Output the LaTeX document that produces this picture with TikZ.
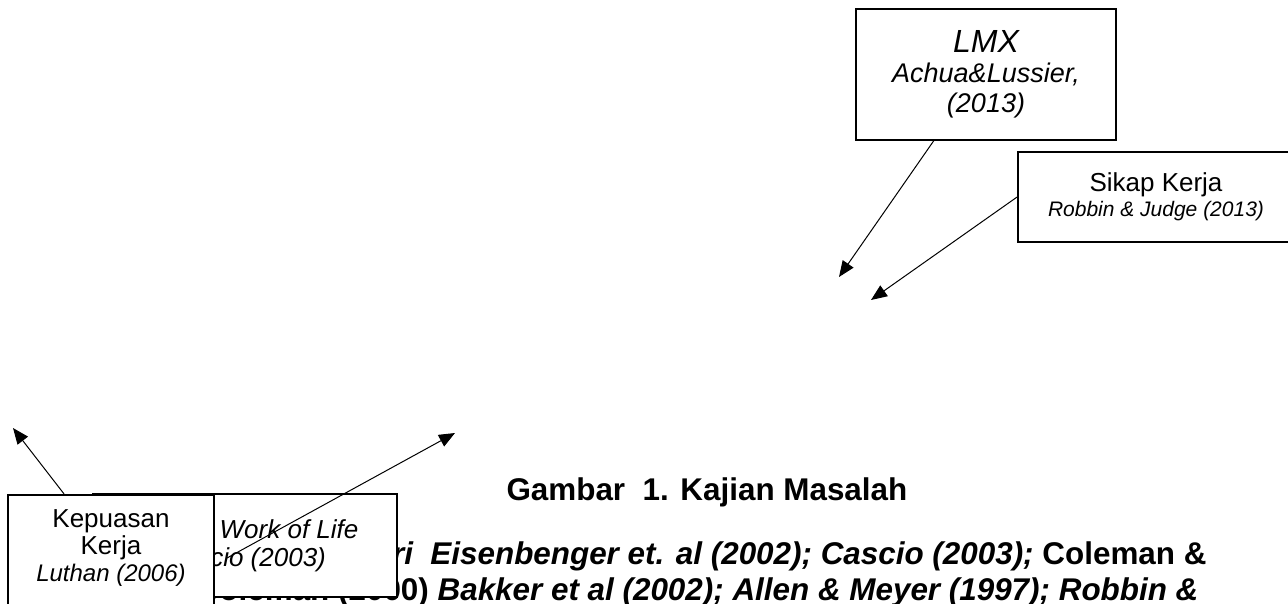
\documentclass[tikz,border=0pt]{standalone}
\usepackage{fontspec}
\setmainfont{Liberation Sans}
\usetikzlibrary{arrows.meta,calc,positioning}

\begin{document}
\begin{tikzpicture}[x=1pt, y=-1pt,
  every node/.style={font=\fontsize{26}{28}\selectfont},
  box/.style={draw, line width=1.8pt, fill=white, align=center, inner sep=0pt},
  pointer/.style={-{Triangle[length=16pt,width=13pt]}, line width=1pt},
  source/.style={font=\fontsize{31.4}{36}\selectfont\bfseries}]
\useasboundingbox (0,0) rectangle (1288,603);
% caption and source lines
\node[source, anchor=base west] (caption) at (503,500) {Gambar\ \ 1. Kajian Masalah};
\node[source, anchor=base east] (sourcesA) at (1210,564)
  {\textit{Kajian Teori\ \ Eisenbenger et. al (2002); Cascio (2003);} Coleman \&};
\node[source, anchor=base east] (sourcesB) at (1202,600)
  {Coleman (2000) \textit{Bakker et al (2002); Allen \& Meyer (1997); Robbin \&}};
% boxes
\node[box, minimum width=260, minimum height=131, font=\itshape\fontsize{27}{30}\selectfont] (lmx) at (986,74.5)
  {{\fontsize{32}{32}\selectfont LMX}\\Achua\&Lussier,\\(2013)};
\node[box, minimum width=276, minimum height=90] (sikap) at (1156,197)
  {Sikap Kerja\\[-3pt]{\itshape\fontsize{21}{24}\selectfont Robbin \& Judge (2013)}};
\node[box, minimum width=304, minimum height=103, font=\itshape\fontsize{26}{28}\selectfont] (qwl) at (245,545.5)
  {Quality Work of Life\\Cascio (2003)};
\node[box, minimum width=206, minimum height=130, anchor=north] (kepuasan) at (111,494) {};
\node[align=center, font=\fontsize{26}{27}\selectfont] (kepuasantext) at (111,548)
  {Kepuasan\\Kerja\\{\itshape\fontsize{24}{27}\selectfont Luthan (2006)}};
% free ends of the arrows
\coordinate (lmxend) at (839,277);
\coordinate (sikapend) at (871,300);
\coordinate (kepuasanend) at (13,428);
\coordinate (qwlstart) at (227,558);
\coordinate (qwlend) at (455,433);
% arrows
\draw[pointer] ($(lmx.south west)!0.3!(lmx.south east)$) -- (lmxend);
\draw[pointer] (sikap.west) -- (sikapend);
\draw[pointer] ($(kepuasan.north west)+(57,0)$) -- (kepuasanend);
\draw[pointer] (qwlstart) -- (qwlend);
\end{tikzpicture}
\end{document}
